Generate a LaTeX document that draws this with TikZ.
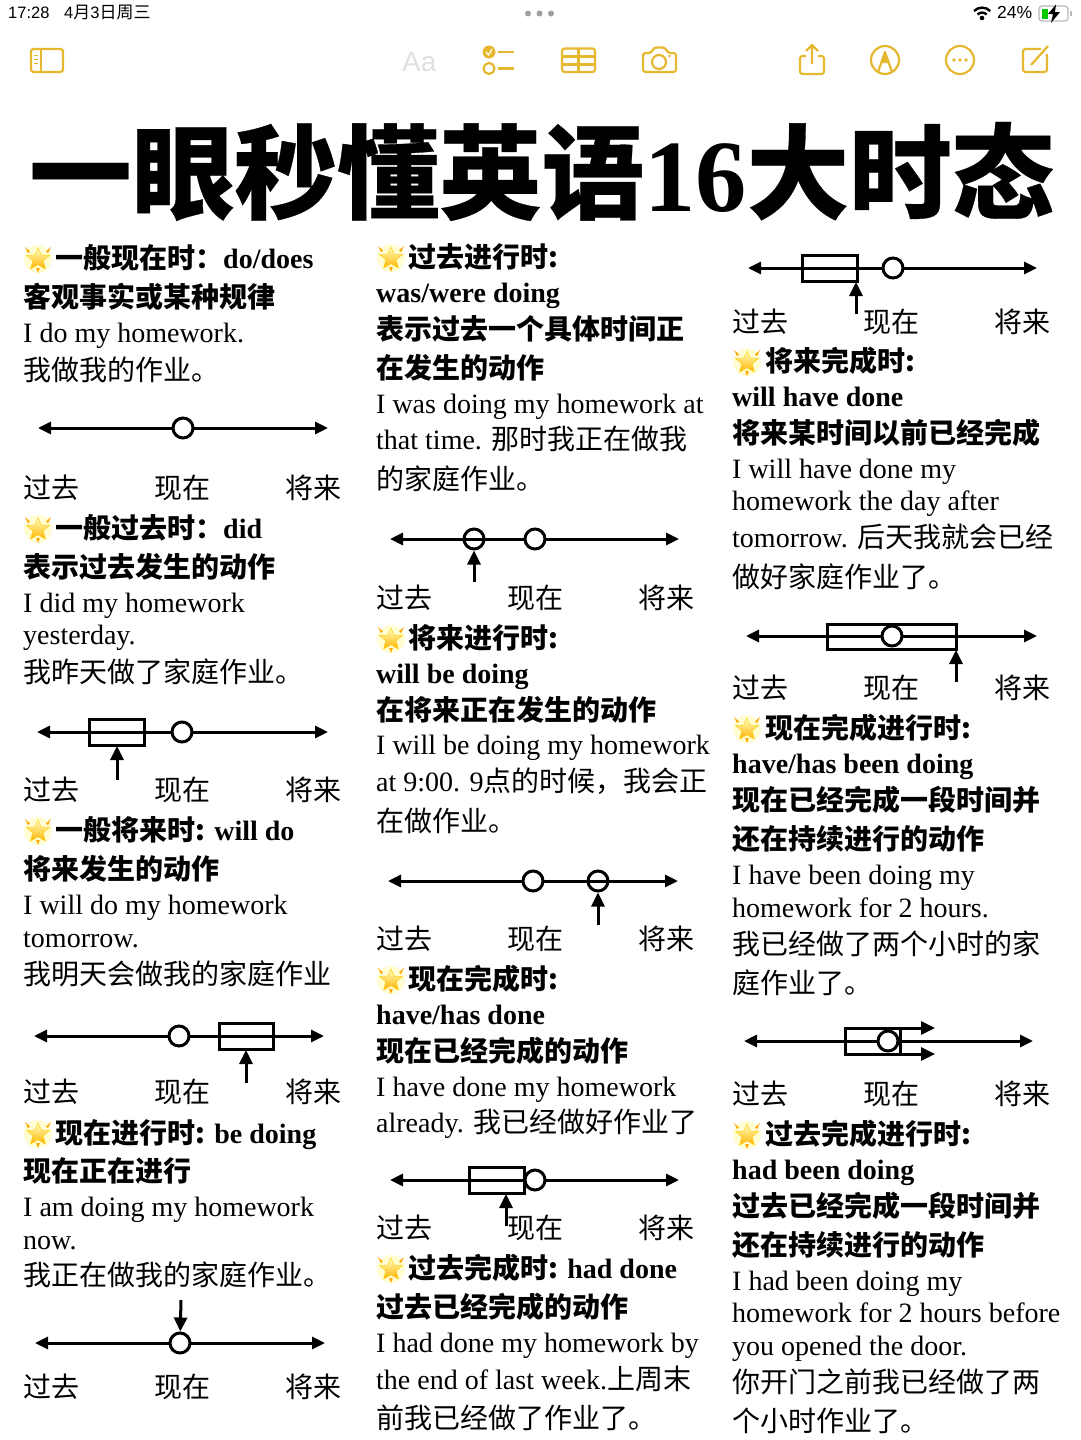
\documentclass[tikz,border=0pt]{standalone}
\usepackage{fontspec}
\usetikzlibrary{arrows.meta,shapes.geometric}
\setmainfont{Liberation Serif}
\newfontfamily\cjk{Noto Sans CJK SC}
\newfontfamily\cjkblack[BoldFeatures={FakeBold=0.3}]{Noto Sans CJK SC}
\newfontfamily\uisans{Liberation Sans}
\newcommand\cn[1]{{\cjk #1}}
\definecolor{gold}{HTML}{E6B830}
\tikzset{
 x=1pt,y=-1pt,
 txt/.style={anchor=base west,inner sep=0pt,font=\fontsize{28}{28}\selectfont},
 cntxt/.style={anchor=base west,inner sep=0pt,yshift=-1pt,font=\fontsize{28}{28}\selectfont\cjk},
 bld/.style={anchor=base west,inner sep=0pt,font=\fontsize{28}{28}\selectfont\bfseries},
 bcn/.style={bld,yshift=-1pt},
 axisline/.style={line width=3pt,{Triangle[length=13pt,width=12pt]}-{Triangle[length=13pt,width=12pt]}},
 tcirc/.style={circle,draw,line width=3pt,fill=white,minimum size=20pt,inner sep=0pt},
 tring/.style={circle,draw,line width=3pt,minimum size=20pt,inner sep=0pt},
 tbox/.style={rectangle,draw,line width=3pt,inner sep=0pt},
 pointer/.style={line width=3pt,-{Triangle[length=14pt,width=13pt]}},
 icon/.style={draw=gold,line width=2.2pt,line join=round},
 stat/.style={anchor=base west,inner sep=0pt,font=\fontsize{16.5}{16.5}\selectfont\uisans},
}
% star icon
\newcommand\staricon[2]{%
 \begin{scope}[shift={(#1,#2)}]
 \fill[yellow!18!white] (0,1) circle (14);
 \shade[top color=yellow!25!white,bottom color=orange!60!yellow,draw=orange!40!yellow,line width=.4pt] (0,-10) -- (3.2,-3) -- (11.5,-2.5) -- (5.2,2.8) -- (7.4,11) -- (0,6.8) -- (-7.4,11) -- (-5.2,2.8) -- (-11.5,-2.5) -- (-3.2,-3) -- cycle;
 \fill[orange!70!yellow] (-13,-11) -- (-8,-6.5) -- (-10,-5) -- cycle (13,-11) -- (8,-6.5) -- (10,-5) -- cycle (-1.8,10) -- (1.8,10) -- (0,15) -- cycle;
 \end{scope}
}
% three labels; args: name, x1, y
\newcommand\tlabels[3]{%
 \pgfmathsetmacro\lb{#2+131.5}\pgfmathsetmacro\lc{#2+262.5}%
 \node[cntxt] (#1a) at (#2,#3+9) {过去};
 \node[cntxt] (#1b) at (\lb,#3+9) {现在};
 \node[cntxt] (#1c) at (\lc,#3+9) {将来};
}
% axis; args: name, x1, x2, y
\newcommand\axis[4]{%
 \coordinate (#1L) at (#2,#4); \coordinate (#1R) at (#3,#4);
 \draw[axisline] (#1L) -- (#1R);
}
\begin{document}
\begin{tikzpicture}
\useasboundingbox (0,0) rectangle (1080,1440);
\fill[white] (0,0) rectangle (1080,1440);

%% status bar
\node[stat] (st1) at (8,19) {17:28};
\node[stat] (st2) at (64,19) {4{\cjk\fontsize{17}{17}\selectfont 月}3{\cjk\fontsize{17}{17}\selectfont 日周三}};
\fill[gray!75] (528,13.5) circle (3) (539.5,13.5) circle (3) (551,13.5) circle (3);
\node[stat,font=\fontsize{17.5}{17.5}\selectfont\uisans] (st3) at (997,19) {24\%};
% wifi
\begin{scope}[line width=2.4pt]
\draw (974,11) arc[start angle=135,end angle=45,radius=11.5pt];
\draw (977.5,14.5) arc[start angle=135,end angle=45,radius=6.5pt];
\fill (982,18) circle (2.3);
\end{scope}
% battery
\draw[gray!55,line width=1.2pt,rounded corners=3pt] (1039,6) rectangle (1068,21);
\fill[green!70!black!70!green] (1041.5,8.5) rectangle (1048,18.5);
\fill (1056,4.5) -- (1048,14) -- (1053,14) -- (1051,23) -- (1060,12) -- (1055,12) -- cycle;
\draw[gray!55,line width=1.2pt] (1071,11) -- (1071,16);

%% toolbar
\draw[icon,rounded corners=2.5pt] (31,49) rectangle (63,72);
\draw[icon] (41,49) -- (41,72);
\draw[gold,line width=1pt] (34,55) -- (38,55) (34,59) -- (38,59) (34,63) -- (38,63);
\node[anchor=base west,inner sep=0pt,text=black!12,font=\fontsize{28}{28}\selectfont\uisans] (aa) at (402,71) {Aa};
\fill[gold] (489,52) circle (6.5);
\draw[white,line width=1.2pt] (486,52) -- (488.5,55) -- (492,49);
\draw[icon] (489,68.5) circle (5.5);
\draw[icon] (498,52) -- (514,52) (498,68.5) -- (514,68.5);
\draw[icon,rounded corners=2.5pt] (562,48.5) rectangle (595,72);
\draw[icon] (562,56.5) -- (595,56.5) (562,64.5) -- (595,64.5) (578.5,48.5) -- (578.5,72);
\draw[icon,rounded corners=2.5pt] (643,53) -- (651,53) -- (654,47.5) -- (665,47.5) -- (668,53) -- (676,53) -- (676,72) -- (643,72) -- cycle;
\draw[icon] (659,62) circle (7);
\fill[gold] (669.5,56) circle (1.3);
\draw[icon,rounded corners=2.5pt] (806,56) -- (800,56) -- (800,74) -- (824,74) -- (824,56) -- (818,56);
\draw[icon] (812,64) -- (812,45) (806,51) -- (812,45) -- (818,51);
\draw[icon] (885,60) circle (14);
\draw[icon] (878,72) -- (885,52) -- (892,72);
\fill[gold] (885,51) -- (889,63) -- (881,63) -- cycle;
\draw[icon] (960,60) circle (14);
\fill[gold] (954,60) circle (1.8) (960,60) circle (1.8) (966,60) circle (1.8);
\draw[icon,rounded corners=2.5pt] (1041,49) -- (1023,49) -- (1023,72) -- (1047,72) -- (1047,54);
\draw[icon] (1031,65) -- (1048,46);

%% title
\node[anchor=base west,inner sep=0pt,font=\fontsize{102.5}{102.5}\selectfont\bfseries] (title) at (29,211) {{\cjkblack 一眼秒懂英语}16{\cjkblack 大时态}};

%% column 1
\staricon{38}{258}
\node[bcn] (a1) at (55,267) {{\cjk 一般现在时：}do/does};
\node[bcn] (a2) at (23,306) {{\cjk 客观事实或某种规律}};
\node[txt] (a3) at (23,342) {I do my homework.};
\node[cntxt] (a4) at (23,379) {我做我的作业。};
\axis{t1}{38}{328}{428}
\node[tcirc] (t1c) at (183,428) {};
\tlabels{l1}{23}{488}
\staricon{38}{528}
\node[bcn] (a5) at (55,537) {{\cjk 一般过去时：}did};
\node[bcn] (a6) at (23,576) {{\cjk 表示过去发生的动作}};
\node[txt] (a7) at (23,612) {I did my homework};
\node[txt] (a8) at (23,644) {yesterday.};
\node[cntxt] (a9) at (23,681) {我昨天做了家庭作业。};
\axis{t2}{37}{328}{732}
\draw[tbox] (89,719) rectangle (144,745);
\node[tcirc] (t2c) at (182,732) {};
\coordinate (t2s) at (117,780); \coordinate (t2e) at (117,746);
\draw[pointer] (t2s) -- (t2e);
\tlabels{l2}{23}{790}
\staricon{38}{830}
\node[bcn] (a10) at (55,839) {{\cjk 一般将来时:} will do};
\node[bcn] (a11) at (23,878) {{\cjk 将来发生的动作}};
\node[txt] (a12) at (23,914) {I will do my homework};
\node[txt] (a13) at (23,947) {tomorrow.};
\node[cntxt] (a14) at (23,983) {我明天会做我的家庭作业};
\axis{t3}{34}{324}{1036}
\node[tcirc] (t3c) at (179,1036) {};
\draw[tbox] (219,1023) rectangle (273,1049);
\coordinate (t3s) at (246,1083); \coordinate (t3e) at (246,1050);
\draw[pointer] (t3s) -- (t3e);
\tlabels{l3}{23}{1092}
\staricon{38}{1133}
\node[bcn] (a15) at (55,1142) {{\cjk 现在进行时:} be doing};
\node[bcn] (a16) at (23,1180) {{\cjk 现在正在进行}};
\node[txt] (a17) at (23,1216) {I am doing my homework};
\node[txt] (a18) at (23,1249) {now.};
\node[cntxt] (a19) at (23,1284) {我正在做我的家庭作业。};
\axis{t4}{35}{325}{1343}
\node[tcirc] (t4c) at (180,1343) {};
\coordinate (t4s) at (181,1300);
\draw[pointer] (t4s) -- (t4c);
\tlabels{l4}{23}{1387}

%% column 2
\staricon{391}{257}
\node[bcn] (b1) at (408,266) {{\cjk 过去进行时:}};
\node[bld] (b2) at (376,302) {was/were doing};
\node[bcn] (b3) at (376,338) {{\cjk 表示过去一个具体时间正}};
\node[bcn] (b4) at (376,377) {{\cjk 在发生的动作}};
\node[txt] (b5) at (376,413) {I was doing my homework at};
\node[txt] (b6) at (376,449) {that time. \cn{那时我正在做我}};
\node[cntxt] (b7) at (376,488) {的家庭作业。};
\axis{t5}{390}{679}{539}
\node[tring] (t5c) at (474,539) {};
\node[tcirc] (t5d) at (535,539) {};
\coordinate (t5s) at (474,582);
\draw[pointer] (t5s) -- (t5c);
\tlabels{l5}{376}{598}
\staricon{391}{638}
\node[bcn] (b8) at (408,647) {{\cjk 将来进行时:}};
\node[bld] (b9) at (376,683) {will be doing};
\node[bcn] (b10) at (376,719) {{\cjk 在将来正在发生的动作}};
\node[txt] (b11) at (376,754) {I will be doing my homework};
\node[txt] (b12) at (376,791) {at 9:00. 9\cn{点的时候，我会正}};
\node[cntxt] (b13) at (376,830) {在做作业。};
\axis{t6}{388}{678}{881}
\node[tcirc] (t6c) at (533,881) {};
\node[tring] (t6d) at (598,881) {};
\coordinate (t6s) at (598,925);
\draw[pointer] (t6s) -- (t6d);
\tlabels{l6}{376}{939}
\staricon{391}{979}
\node[bcn] (b14) at (408,988) {{\cjk 现在完成时:}};
\node[bld] (b15) at (376,1024) {have/has done};
\node[bcn] (b16) at (376,1060) {{\cjk 现在已经完成的动作}};
\node[txt] (b17) at (376,1096) {I have done my homework};
\node[txt] (b18) at (376,1132) {already. \cn{我已经做好作业了}};
\axis{t7}{390}{679}{1180}
\draw[tbox] (469,1167) rectangle (524,1193);
\node[tcirc] (t7c) at (535,1180) {};
\coordinate (t7s) at (506,1226); \coordinate (t7e) at (506,1194);
\draw[pointer] (t7s) -- (t7e);
\tlabels{l7}{376}{1228}
\staricon{391}{1268}
\node[bcn] (b19) at (408,1277) {{\cjk 过去完成时:} had done};
\node[bcn] (b20) at (376,1316) {{\cjk 过去已经完成的动作}};
\node[txt] (b21) at (376,1352) {I had done my homework by};
\node[txt] (b22) at (376,1389) {the end of last week.\cn{上周末}};
\node[cntxt] (b23) at (376,1427) {前我已经做了作业了。};

%% column 3
\axis{t8}{748}{1037}{268}
\draw[tbox] (802,255) rectangle (857,281);
\node[tcirc] (t8c) at (893,268) {};
\coordinate (t8s) at (856,314); \coordinate (t8e) at (856,282);
\draw[pointer] (t8s) -- (t8e);
\tlabels{l8}{732}{322}
\staricon{747}{361}
\node[bcn] (c1) at (765,370) {{\cjk 将来完成时:}};
\node[bld] (c2) at (732,406) {will have done};
\node[bcn] (c3) at (732,442) {{\cjk 将来某时间以前已经完成}};
\node[txt] (c4) at (732,478) {I will have done my};
\node[txt] (c5) at (732,510) {homework the day after};
\node[txt] (c6) at (732,547) {tomorrow. \cn{后天我就会已经}};
\node[cntxt] (c7) at (732,586) {做好家庭作业了。};
\axis{t9}{746}{1037}{636}
\draw[tbox] (827,624) rectangle (956,649);
\node[tcirc] (t9c) at (892,636) {};
\coordinate (t9s) at (956,682); \coordinate (t9e) at (956,650);
\draw[pointer] (t9s) -- (t9e);
\tlabels{l9}{732}{688}
\staricon{747}{728}
\node[bcn] (c8) at (765,737) {{\cjk 现在完成进行时:}};
\node[bld] (c9) at (732,773) {have/has been doing};
\node[bcn] (c10) at (732,809) {{\cjk 现在已经完成一段时间并}};
\node[bcn] (c11) at (732,848) {{\cjk 还在持续进行的动作}};
\node[txt] (c12) at (732,884) {I have been doing my};
\node[txt] (c13) at (732,917) {homework for 2 hours.};
\node[cntxt] (c14) at (732,953) {我已经做了两个小时的家};
\node[cntxt] (c15) at (732,992) {庭作业了。};
\axis{t10}{744}{1033}{1041}
\draw[tbox] (845,1028) rectangle (900,1054);
\node[tcirc] (t10c) at (888,1041) {};
\coordinate (t10a) at (900,1028); \coordinate (t10b) at (935,1028);
\coordinate (t10p) at (900,1054); \coordinate (t10q) at (935,1054);
\draw[pointer] (t10a) -- (t10b);
\draw[pointer] (t10p) -- (t10q);
\tlabels{l10}{732}{1094}
\staricon{747}{1134}
\node[bcn] (c16) at (765,1143) {{\cjk 过去完成进行时:}};
\node[bld] (c17) at (732,1179) {had been doing};
\node[bcn] (c18) at (732,1215) {{\cjk 过去已经完成一段时间并}};
\node[bcn] (c19) at (732,1254) {{\cjk 还在持续进行的动作}};
\node[txt] (c20) at (732,1290) {I had been doing my};
\node[txt] (c21) at (732,1322) {homework for 2 hours before};
\node[txt] (c22) at (732,1355) {you opened the door.};
\node[cntxt] (c23) at (732,1391) {你开门之前我已经做了两};
\node[cntxt] (c24) at (732,1430) {个小时作业了。};
\end{tikzpicture}
\end{document}
